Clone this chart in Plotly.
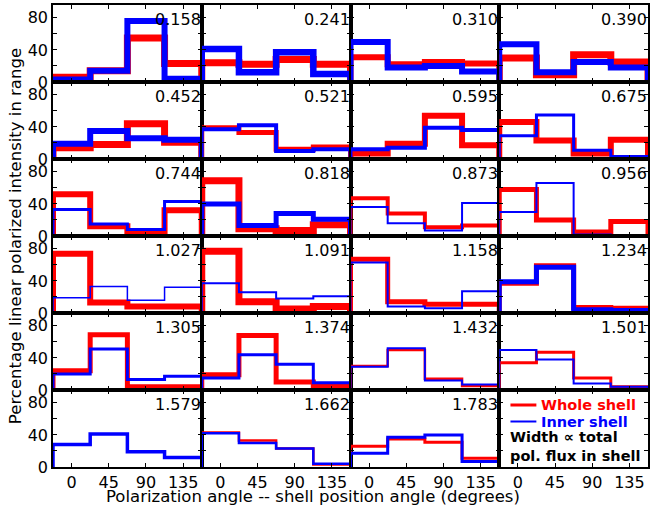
import plotly.graph_objects as go
from plotly.subplots import make_subplots

# ---- data ----
panel_labels = ["0.158", "0.241", "0.310", "0.390",
                "0.452", "0.521", "0.595", "0.675",
                "0.744", "0.818", "0.873", "0.956",
                "1.027", "1.091", "1.158", "1.234",
                "1.305", "1.374", "1.432", "1.501",
                "1.579", "1.662", "1.783"]

bin_centers = [0, 45, 90, 135]
bin_width = 45

whole_shell = [
    [6, 14, 55, 23], [24, 22, 28, 22], [31, 22, 25, 23], [30, 9, 34, 25],
    [14, 18, 44, 21], [39, 33, 12, 15], [7, 19, 54, 17], [46, 23, 7, 24],
    [52, 12, 3, 32], [69, 9, 7, 14], [47, 28, 11, 13], [58, 20, 5, 18],
    [74, 13, 8, 8], [77, 14, 5, 8], [67, 14, 11, 11], [37, 59, 7, 6],
    [24, 69, 4, 4], [19, 68, 10, 5], [30, 50, 14, 5], [34, 47, 15, 4],
    [28, 41, 19, 12], [43, 33, 23, 3], [26, 35, 31, 11],
]
inner_shell = [
    [3, 14, 76, 4], [41, 12, 37, 10], [50, 18, 20, 13], [47, 12, 25, 18],
    [19, 35, 26, 24], [37, 42, 10, 12], [12, 14, 39, 36], [29, 55, 11, 3],
    [33, 15, 8, 43], [40, 13, 28, 21], [36, 16, 7, 41], [30, 66, 2, 1],
    [19, 33, 16, 32], [37, 26, 18, 21], [63, 8, 6, 27], [39, 57, 4, 3],
    [20, 51, 13, 17], [15, 44, 32, 9], [29, 52, 12, 7], [50, 38, 8, 4],
    [28, 41, 19, 12], [42, 30, 23, 4], [17, 37, 40, 7],
]
# line widths (proportional to total polarized flux in shell)
whole_width = [7, 7, 6, 7, 7, 5, 6, 6, 6, 7, 4, 5, 6, 7, 5, 5, 5, 5, 2.5, 3, 2, 2.5, 3]
inner_width = [6, 6.5, 6, 6, 6, 4, 4, 3, 3, 5, 2, 2, 1.5, 2, 2, 5, 3, 3, 2, 2, 3.5, 2.5, 3]

legend_names = ["Whole shell", "Inner shell"]
legend_widths = [3, 2]
legend_note = "Width \u221d total<br>pol. flux in shell"

y_ticks = [0, 20, 40, 60, 80]
y_ticktext = ["0", "", "40", "", "80"]
x_ticks = [0, 45, 90, 135]

RED = "#ff0000"
BLUE = "#0000ff"
FONT = "DejaVu Sans"
TICK_FS = 16
LABEL_FS = 16
TITLE_FS = 16.5

W, H = 650, 515
ml, mr, mt, mb = 53, 0, 5, 48
pw, ph = W - ml - mr, H - mt - mb

nrows, ncols = 6, 4
fig = make_subplots(rows=nrows, cols=ncols, horizontal_spacing=0, vertical_spacing=0)

edges = [c - bin_width / 2 for c in bin_centers] + [bin_centers[-1] + bin_width / 2]
xs = [edges[0]] + edges + [edges[-1]]


def step_y(vals):
    return [0] + list(vals) + [vals[-1], 0]


for i, lab in enumerate(panel_labels):
    r, c = i // ncols + 1, i % ncols + 1
    fig.add_trace(go.Scatter(x=xs, y=step_y(whole_shell[i]), mode="lines", line_shape="hv",
                             line=dict(color=RED, width=whole_width[i]), showlegend=False,
                             hoverinfo="skip"), row=r, col=c)
    fig.add_trace(go.Scatter(x=xs, y=step_y(inner_shell[i]), mode="lines", line_shape="hv",
                             line=dict(color=BLUE, width=inner_width[i]), showlegend=False,
                             hoverinfo="skip"), row=r, col=c)
    k = i + 1
    suffix = "" if k == 1 else str(k)
    fig.add_annotation(text=lab, xref=f"x{suffix} domain", yref=f"y{suffix} domain",
                       x=1, y=1, xanchor="right", yanchor="top", yshift=-3, xshift=1,
                       showarrow=False, font=dict(family=FONT, size=LABEL_FS, color="black"))

# empty trace so that the last (legend) panel gets its axes drawn
fig.add_trace(go.Scatter(x=[None], y=[None], mode="lines", showlegend=False, hoverinfo="skip"),
              row=6, col=4)

for r in range(1, nrows + 1):
    for c in range(1, ncols + 1):
        fig.update_xaxes(range=[-22.5, 157.5], tickvals=x_ticks, showticklabels=(r == nrows),
                         ticks="inside", ticklen=4, tickwidth=1, tickcolor="black",
                         mirror="allticks", showline=True, linecolor="black", linewidth=1.5,
                         showgrid=False, zeroline=False,
                         tickfont=dict(family=FONT, size=TICK_FS, color="black"), row=r, col=c)
        fig.update_yaxes(range=[0, 96], tickvals=y_ticks, ticktext=y_ticktext,
                         showticklabels=(c == 1),
                         ticks="inside", ticklen=4, tickwidth=1, tickcolor="black",
                         mirror="allticks", showline=True, linecolor="black", linewidth=1.5,
                         showgrid=False, zeroline=False,
                         tickfont=dict(family=FONT, size=TICK_FS, color="black"), row=r, col=c)

# ---- legend drawn in the empty last panel (x24/y24 domain) ----
lx0, lx1 = 512, 538
panel_left = ml + 3 * pw / 4
panel_bottom = H - mb
panel_w, panel_h = pw / 4, ph / 6


def dx(px):
    return (px - panel_left) / panel_w


def dy(py):
    return (panel_bottom - py) / panel_h


for name, col, lw, py in zip(legend_names, [RED, BLUE], legend_widths, [405, 421.5]):
    fig.add_shape(type="line", xref="x24 domain", yref="y24 domain",
                  x0=dx(lx0), x1=dx(lx1), y0=dy(py), y1=dy(py),
                  line=dict(color=col, width=lw))
    fig.add_annotation(text=f"<b>{name}</b>", xref="x24 domain", yref="y24 domain",
                       x=dx(541), y=dy(py), xanchor="left", yanchor="middle",
                       showarrow=False, font=dict(family=FONT, size=14.5, color=col))
fig.add_annotation(text=f"<b>{legend_note}</b>", xref="x24 domain", yref="y24 domain",
                   x=dx(510), y=dy(446), xanchor="left", yanchor="middle", align="left",
                   showarrow=False, font=dict(family=FONT, size=14.5, color="black"))

fig.add_annotation(text="Percentage linear polarized intensity in range", xref="paper", yref="paper",
                   x=(15 - ml) / pw, y=0.5, xanchor="center", yanchor="middle", textangle=-90,
                   showarrow=False, font=dict(family=FONT, size=TITLE_FS, color="black"))
fig.add_annotation(text="Polarization angle -- shell position angle (degrees)", xref="paper", yref="paper",
                   x=(314 - ml) / pw, y=-(496 - (H - mb)) / ph, xanchor="center", yanchor="middle",
                   showarrow=False, font=dict(family=FONT, size=TITLE_FS, color="black"))

fig.update_layout(
    width=W, height=H, margin=dict(l=ml, r=mr, t=mt, b=mb),
    paper_bgcolor="white", plot_bgcolor="white",
    showlegend=False,
)

fig.write_html("out.html")
